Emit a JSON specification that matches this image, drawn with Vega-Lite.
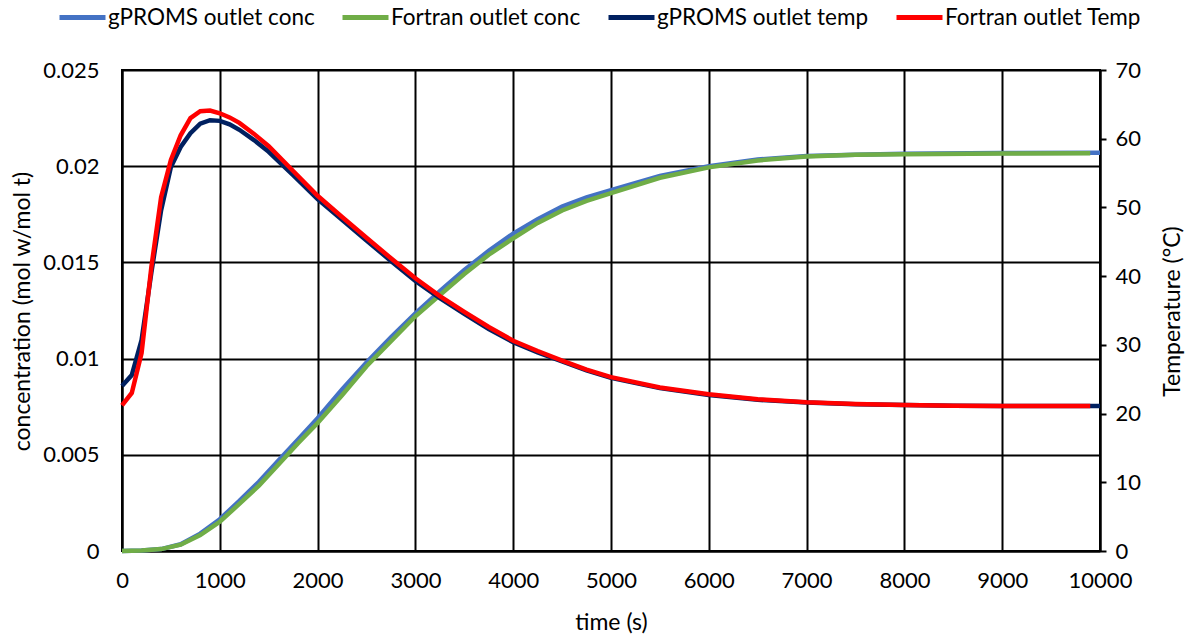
{
  "$schema": "https://vega.github.io/schema/vega-lite/v6.json",
  "width": 978,
  "height": 481,
  "autosize": {"type": "none"},
  "padding": {"left": 122, "top": 70, "right": 97, "bottom": 89},
  "background": "white",
  "config": {
    "font": "Lato",
    "view": {"stroke": "black", "strokeWidth": 2},
    "axis": {"labelColor": "black", "titleColor": "black", "labelFontSize": 22, "titleFontSize": 23, "titleFontWeight": "normal", "domainColor": "black", "domainWidth": 2, "gridColor": "black", "gridWidth": 2, "gridOpacity": 1}
  },
  "datasets": {
    "conc": [
      {"t": 0, "s": "gPROMS outlet conc", "v": 0},
      {"t": 200, "s": "gPROMS outlet conc", "v": 0.00002},
      {"t": 400, "s": "gPROMS outlet conc", "v": 0.0001},
      {"t": 600, "s": "gPROMS outlet conc", "v": 0.00035},
      {"t": 800, "s": "gPROMS outlet conc", "v": 0.0009},
      {"t": 1000, "s": "gPROMS outlet conc", "v": 0.00165},
      {"t": 1200, "s": "gPROMS outlet conc", "v": 0.0026},
      {"t": 1400, "s": "gPROMS outlet conc", "v": 0.0036},
      {"t": 1600, "s": "gPROMS outlet conc", "v": 0.0047},
      {"t": 1800, "s": "gPROMS outlet conc", "v": 0.0058},
      {"t": 2000, "s": "gPROMS outlet conc", "v": 0.0069},
      {"t": 2250, "s": "gPROMS outlet conc", "v": 0.0084},
      {"t": 2500, "s": "gPROMS outlet conc", "v": 0.0098},
      {"t": 2750, "s": "gPROMS outlet conc", "v": 0.0111},
      {"t": 3000, "s": "gPROMS outlet conc", "v": 0.01235},
      {"t": 3250, "s": "gPROMS outlet conc", "v": 0.0135},
      {"t": 3500, "s": "gPROMS outlet conc", "v": 0.0146},
      {"t": 3750, "s": "gPROMS outlet conc", "v": 0.0156},
      {"t": 4000, "s": "gPROMS outlet conc", "v": 0.0165},
      {"t": 4250, "s": "gPROMS outlet conc", "v": 0.01725},
      {"t": 4500, "s": "gPROMS outlet conc", "v": 0.0179},
      {"t": 4750, "s": "gPROMS outlet conc", "v": 0.01838},
      {"t": 5000, "s": "gPROMS outlet conc", "v": 0.01876},
      {"t": 5500, "s": "gPROMS outlet conc", "v": 0.0195},
      {"t": 6000, "s": "gPROMS outlet conc", "v": 0.02},
      {"t": 6500, "s": "gPROMS outlet conc", "v": 0.02035},
      {"t": 7000, "s": "gPROMS outlet conc", "v": 0.02053},
      {"t": 7500, "s": "gPROMS outlet conc", "v": 0.0206},
      {"t": 8000, "s": "gPROMS outlet conc", "v": 0.02065},
      {"t": 9000, "s": "gPROMS outlet conc", "v": 0.02068},
      {"t": 10000, "s": "gPROMS outlet conc", "v": 0.0207},
      {"t": 0, "s": "Fortran outlet conc", "v": 0},
      {"t": 200, "s": "Fortran outlet conc", "v": 0.00002},
      {"t": 400, "s": "Fortran outlet conc", "v": 0.0001},
      {"t": 600, "s": "Fortran outlet conc", "v": 0.00033},
      {"t": 800, "s": "Fortran outlet conc", "v": 0.00083},
      {"t": 1000, "s": "Fortran outlet conc", "v": 0.00152},
      {"t": 1200, "s": "Fortran outlet conc", "v": 0.00245},
      {"t": 1400, "s": "Fortran outlet conc", "v": 0.0034},
      {"t": 1600, "s": "Fortran outlet conc", "v": 0.0045},
      {"t": 1800, "s": "Fortran outlet conc", "v": 0.0056},
      {"t": 2000, "s": "Fortran outlet conc", "v": 0.00665},
      {"t": 2250, "s": "Fortran outlet conc", "v": 0.0081},
      {"t": 2500, "s": "Fortran outlet conc", "v": 0.0096},
      {"t": 2750, "s": "Fortran outlet conc", "v": 0.0109},
      {"t": 3000, "s": "Fortran outlet conc", "v": 0.0122},
      {"t": 3250, "s": "Fortran outlet conc", "v": 0.0133},
      {"t": 3500, "s": "Fortran outlet conc", "v": 0.0144},
      {"t": 3750, "s": "Fortran outlet conc", "v": 0.0154},
      {"t": 4000, "s": "Fortran outlet conc", "v": 0.01625},
      {"t": 4250, "s": "Fortran outlet conc", "v": 0.01705},
      {"t": 4500, "s": "Fortran outlet conc", "v": 0.0177},
      {"t": 4750, "s": "Fortran outlet conc", "v": 0.0182},
      {"t": 5000, "s": "Fortran outlet conc", "v": 0.0186},
      {"t": 5500, "s": "Fortran outlet conc", "v": 0.0194},
      {"t": 6000, "s": "Fortran outlet conc", "v": 0.01994},
      {"t": 6500, "s": "Fortran outlet conc", "v": 0.0203},
      {"t": 7000, "s": "Fortran outlet conc", "v": 0.0205},
      {"t": 7500, "s": "Fortran outlet conc", "v": 0.0206},
      {"t": 8000, "s": "Fortran outlet conc", "v": 0.02062},
      {"t": 9000, "s": "Fortran outlet conc", "v": 0.02066},
      {"t": 9900, "s": "Fortran outlet conc", "v": 0.02067}
    ],
    "temp": [
      {"t": 0, "s": "gPROMS outlet temp", "v": 24.0},
      {"t": 100, "s": "gPROMS outlet temp", "v": 25.6},
      {"t": 200, "s": "gPROMS outlet temp", "v": 30.7},
      {"t": 300, "s": "gPROMS outlet temp", "v": 40.5},
      {"t": 400, "s": "gPROMS outlet temp", "v": 49.6},
      {"t": 500, "s": "gPROMS outlet temp", "v": 55.9},
      {"t": 600, "s": "gPROMS outlet temp", "v": 58.8},
      {"t": 700, "s": "gPROMS outlet temp", "v": 60.8},
      {"t": 800, "s": "gPROMS outlet temp", "v": 62.2},
      {"t": 900, "s": "gPROMS outlet temp", "v": 62.7},
      {"t": 1000, "s": "gPROMS outlet temp", "v": 62.6},
      {"t": 1100, "s": "gPROMS outlet temp", "v": 62.1},
      {"t": 1200, "s": "gPROMS outlet temp", "v": 61.3},
      {"t": 1350, "s": "gPROMS outlet temp", "v": 59.8},
      {"t": 1500, "s": "gPROMS outlet temp", "v": 58.1},
      {"t": 1750, "s": "gPROMS outlet temp", "v": 54.7},
      {"t": 2000, "s": "gPROMS outlet temp", "v": 51.2},
      {"t": 2250, "s": "gPROMS outlet temp", "v": 48.2},
      {"t": 2500, "s": "gPROMS outlet temp", "v": 45.2},
      {"t": 2750, "s": "gPROMS outlet temp", "v": 42.2},
      {"t": 3000, "s": "gPROMS outlet temp", "v": 39.3},
      {"t": 3250, "s": "gPROMS outlet temp", "v": 36.8},
      {"t": 3500, "s": "gPROMS outlet temp", "v": 34.5},
      {"t": 3750, "s": "gPROMS outlet temp", "v": 32.3},
      {"t": 4000, "s": "gPROMS outlet temp", "v": 30.4},
      {"t": 4250, "s": "gPROMS outlet temp", "v": 28.9},
      {"t": 4500, "s": "gPROMS outlet temp", "v": 27.6},
      {"t": 4750, "s": "gPROMS outlet temp", "v": 26.3},
      {"t": 5000, "s": "gPROMS outlet temp", "v": 25.2},
      {"t": 5500, "s": "gPROMS outlet temp", "v": 23.7},
      {"t": 6000, "s": "gPROMS outlet temp", "v": 22.7},
      {"t": 6500, "s": "gPROMS outlet temp", "v": 22.0},
      {"t": 7000, "s": "gPROMS outlet temp", "v": 21.6},
      {"t": 7500, "s": "gPROMS outlet temp", "v": 21.35},
      {"t": 8000, "s": "gPROMS outlet temp", "v": 21.25},
      {"t": 8500, "s": "gPROMS outlet temp", "v": 21.15},
      {"t": 9000, "s": "gPROMS outlet temp", "v": 21.1},
      {"t": 9500, "s": "gPROMS outlet temp", "v": 21.1},
      {"t": 10000, "s": "gPROMS outlet temp", "v": 21.1},
      {"t": 0, "s": "Fortran outlet Temp", "v": 21.2},
      {"t": 100, "s": "Fortran outlet Temp", "v": 23.0},
      {"t": 200, "s": "Fortran outlet Temp", "v": 28.8},
      {"t": 300, "s": "Fortran outlet Temp", "v": 41.3},
      {"t": 400, "s": "Fortran outlet Temp", "v": 51.5},
      {"t": 500, "s": "Fortran outlet Temp", "v": 56.9},
      {"t": 600, "s": "Fortran outlet Temp", "v": 60.5},
      {"t": 700, "s": "Fortran outlet Temp", "v": 63.0},
      {"t": 800, "s": "Fortran outlet Temp", "v": 64.0},
      {"t": 900, "s": "Fortran outlet Temp", "v": 64.1},
      {"t": 1000, "s": "Fortran outlet Temp", "v": 63.7},
      {"t": 1100, "s": "Fortran outlet Temp", "v": 63.1},
      {"t": 1200, "s": "Fortran outlet Temp", "v": 62.3},
      {"t": 1350, "s": "Fortran outlet Temp", "v": 60.7},
      {"t": 1500, "s": "Fortran outlet Temp", "v": 58.9},
      {"t": 1750, "s": "Fortran outlet Temp", "v": 55.3},
      {"t": 2000, "s": "Fortran outlet Temp", "v": 51.7},
      {"t": 2250, "s": "Fortran outlet Temp", "v": 48.6},
      {"t": 2500, "s": "Fortran outlet Temp", "v": 45.6},
      {"t": 2750, "s": "Fortran outlet Temp", "v": 42.6},
      {"t": 3000, "s": "Fortran outlet Temp", "v": 39.7},
      {"t": 3250, "s": "Fortran outlet Temp", "v": 37.1},
      {"t": 3500, "s": "Fortran outlet Temp", "v": 34.8},
      {"t": 3750, "s": "Fortran outlet Temp", "v": 32.6},
      {"t": 4000, "s": "Fortran outlet Temp", "v": 30.6},
      {"t": 4250, "s": "Fortran outlet Temp", "v": 29.1},
      {"t": 4500, "s": "Fortran outlet Temp", "v": 27.7},
      {"t": 4750, "s": "Fortran outlet Temp", "v": 26.4},
      {"t": 5000, "s": "Fortran outlet Temp", "v": 25.3},
      {"t": 5500, "s": "Fortran outlet Temp", "v": 23.8},
      {"t": 6000, "s": "Fortran outlet Temp", "v": 22.8},
      {"t": 6500, "s": "Fortran outlet Temp", "v": 22.1},
      {"t": 7000, "s": "Fortran outlet Temp", "v": 21.65},
      {"t": 7500, "s": "Fortran outlet Temp", "v": 21.4},
      {"t": 8000, "s": "Fortran outlet Temp", "v": 21.25},
      {"t": 8500, "s": "Fortran outlet Temp", "v": 21.15},
      {"t": 9000, "s": "Fortran outlet Temp", "v": 21.1},
      {"t": 9500, "s": "Fortran outlet Temp", "v": 21.1},
      {"t": 9900, "s": "Fortran outlet Temp", "v": 21.1}
    ]
  },
  "layer": [
    {
      "data": {"name": "conc"},
      "encoding": {
        "x": {"field": "t", "type": "quantitative", "scale": {"domain": [0, 10000], "nice": false, "zero": false},
          "axis": {"title": "time (s)", "values": [0,1000,2000,3000,4000,5000,6000,7000,8000,9000,10000], "format": "d", "ticks": false, "tickSize": 0, "labelPadding": 19, "grid": true, "titleX": 489, "titleY": 71, "titleBaseline": "middle", "titleAlign": "center", "labelFlush": false}},
        "y": {"field": "v", "type": "quantitative", "scale": {"domain": [0, 0.025], "nice": false},
          "axis": {"title": "concentration (mol w/mol t)", "values": [0, 0.005, 0.01, 0.015, 0.02, 0.025], "format": "~g", "ticks": false, "tickSize": 0, "labelPadding": 23, "grid": true, "titleAngle": -90, "titleX": -100, "titleY": 241, "titleAlign": "center", "titleBaseline": "middle"}},
        "color": {"field": "s", "type": "nominal",
          "scale": {"domain": ["gPROMS outlet conc", "Fortran outlet conc", "gPROMS outlet temp", "Fortran outlet Temp"], "range": ["#4472C4", "#70AD47", "#002060", "#FF0000"]},
          "legend": {"title": null, "orient": "none", "legendX": -65, "legendY": -78, "direction": "horizontal", "symbolType": "stroke", "symbolSize": 2116, "symbolStrokeWidth": 5, "labelFontSize": 22.5, "labelColor": "black", "labelOffset": 0, "labelLimit": 400, "columnPadding": 17}}
      },
      "layer": [
        {"transform": [{"filter": "datum.s === 'gPROMS outlet conc'"}], "mark": {"type": "line", "strokeWidth": 4.5}},
        {"transform": [{"filter": "datum.s === 'Fortran outlet conc'"}], "mark": {"type": "line", "strokeWidth": 4.5}}
      ]
    },
    {
      "data": {"name": "temp"},
      "encoding": {
        "x": {"field": "t", "type": "quantitative"},
        "y": {"field": "v", "type": "quantitative", "scale": {"domain": [0, 70], "nice": false},
          "axis": {"orient": "right", "title": "Temperature (°C)", "values": [0,10,20,30,40,50,60,70], "grid": false, "ticks": true, "tickSize": 6, "tickWidth": 2, "tickColor": "black", "labelPadding": 9, "titleAngle": -90, "titleX": 72, "titleY": 241, "titleAlign": "center", "titleBaseline": "middle"}},
        "color": {"field": "s", "type": "nominal"}
      },
      "layer": [
        {"transform": [{"filter": "datum.s === 'gPROMS outlet temp'"}], "mark": {"type": "line", "strokeWidth": 4.5}},
        {"transform": [{"filter": "datum.s === 'Fortran outlet Temp'"}], "mark": {"type": "line", "strokeWidth": 4.5}}
      ]
    }
  ],
  "resolve": {"scale": {"y": "independent"}}
}
